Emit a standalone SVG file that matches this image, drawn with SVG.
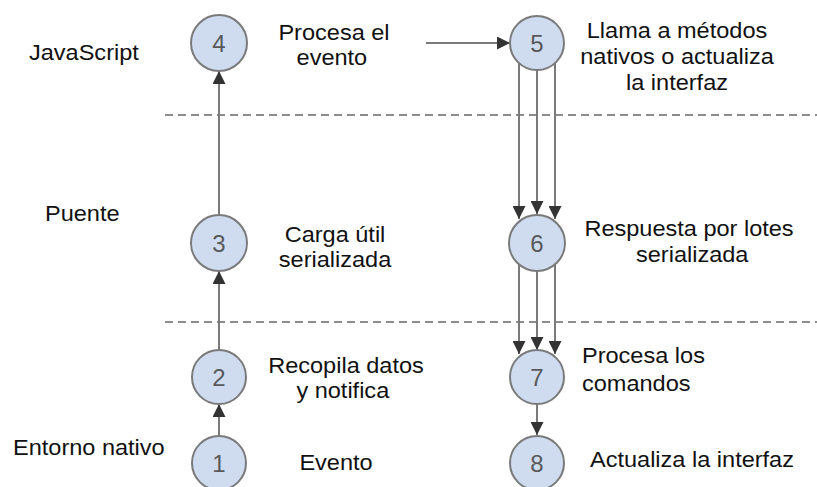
<svg xmlns="http://www.w3.org/2000/svg" width="817" height="487" viewBox="0 0 817 487">
<style>
  .bg{fill:#ffffff}
  .node circle{fill:#cfdcf0;stroke:#7a7a7a;stroke-width:2}
  .num{font-family:"Liberation Sans",Arial,sans-serif;font-size:24px;fill:#595959;text-anchor:middle}
  .lbl{font-family:"Liberation Sans",Arial,sans-serif;font-size:22px;fill:#111111}
  .mid{text-anchor:middle}
  .dash{stroke:#8c8c8c;stroke-width:2;stroke-dasharray:8 5;fill:none}
  .conn line{stroke:#7a7a7a;stroke-width:2;fill:none}
</style>
<defs>
  <marker id="ah" viewBox="0 0 10 10" refX="10" refY="5" markerWidth="13" markerHeight="13" markerUnits="userSpaceOnUse" orient="auto">
    <path d="M0,0 L10,5 L0,10 Z" fill="#333333"/>
  </marker>
</defs>
<rect class="bg" x="0" y="0" width="817" height="487"/>

<g id="lanes">
  <line class="dash" x1="165" y1="115" x2="817" y2="115"/>
  <line class="dash" x1="165" y1="322" x2="817" y2="322"/>
  <text class="lbl" transform="translate(29,60) scale(1.07,1)">JavaScript</text>
  <text class="lbl" transform="translate(45,221) scale(1.07,1)">Puente</text>
  <text class="lbl" transform="translate(13,455) scale(1.07,1)">Entorno nativo</text>
</g>

<g id="connectors" class="conn">
  <line x1="219" y1="436" x2="219" y2="404" marker-end="url(#ah)"/>
  <line x1="219" y1="350" x2="219" y2="271" marker-end="url(#ah)"/>
  <line x1="219" y1="216" x2="219" y2="71" marker-end="url(#ah)"/>
  <line x1="426" y1="43" x2="510" y2="43" marker-end="url(#ah)"/>
  <line x1="519" y1="63" x2="519" y2="219" marker-end="url(#ah)"/>
  <line x1="537" y1="70" x2="537" y2="214" marker-end="url(#ah)"/>
  <line x1="555" y1="63" x2="555" y2="219" marker-end="url(#ah)"/>
  <line x1="519" y1="263" x2="519" y2="354" marker-end="url(#ah)"/>
  <line x1="537" y1="270" x2="537" y2="350" marker-end="url(#ah)"/>
  <line x1="555" y1="263" x2="555" y2="354" marker-end="url(#ah)"/>
  <line x1="537" y1="404" x2="537" y2="435" marker-end="url(#ah)"/>
</g>

<g id="n1" class="node">
  <circle cx="219" cy="463" r="27"/>
  <text class="num" x="219" y="472">1</text>
  <text class="lbl mid" transform="translate(336,470) scale(1.07,1)">Evento</text>
</g>
<g id="n2" class="node">
  <circle cx="219" cy="377" r="27"/>
  <text class="num" x="219" y="386">2</text>
  <text class="lbl mid" transform="translate(346,373) scale(1.07,1)"><tspan x="0" y="0">Recopila datos</tspan><tspan x="-3" y="25">y notifica</tspan></text>
</g>
<g id="n3" class="node">
  <circle cx="219" cy="243" r="28"/>
  <text class="num" x="219" y="252">3</text>
  <text class="lbl mid" transform="translate(335,242) scale(1.07,1)"><tspan x="0" y="0">Carga útil</tspan><tspan x="0" y="25">serializada</tspan></text>
</g>
<g id="n4" class="node">
  <circle cx="219" cy="43" r="28"/>
  <text class="num" x="219" y="52">4</text>
  <text class="lbl mid" transform="translate(334,40) scale(1.07,1)"><tspan x="0" y="0">Procesa el</tspan><tspan x="-2" y="25">evento</tspan></text>
</g>
<g id="n5" class="node">
  <circle cx="537" cy="43" r="27"/>
  <text class="num" x="537" y="52">5</text>
  <text class="lbl mid" transform="translate(677,38) scale(1.07,1)"><tspan x="0" y="0">Llama a métodos</tspan><tspan x="0" y="26">nativos o actualiza</tspan><tspan x="0" y="52">la interfaz</tspan></text>
</g>
<g id="n6" class="node">
  <circle cx="537" cy="243" r="28"/>
  <text class="num" x="537" y="252">6</text>
  <text class="lbl mid" transform="translate(689,236) scale(1.07,1)"><tspan x="0" y="0">Respuesta por lotes</tspan><tspan x="3" y="26">serializada</tspan></text>
</g>
<g id="n7" class="node">
  <circle cx="537" cy="377" r="27"/>
  <text class="num" x="537" y="386">7</text>
  <text class="lbl" transform="translate(582,363) scale(1.07,1)"><tspan x="0" y="0">Procesa los</tspan><tspan x="0" y="28">comandos</tspan></text>
</g>
<g id="n8" class="node">
  <circle cx="537" cy="463" r="27"/>
  <text class="num" x="537" y="472">8</text>
  <text class="lbl" transform="translate(590,467) scale(1.07,1)">Actualiza la interfaz</text>
</g>
</svg>
